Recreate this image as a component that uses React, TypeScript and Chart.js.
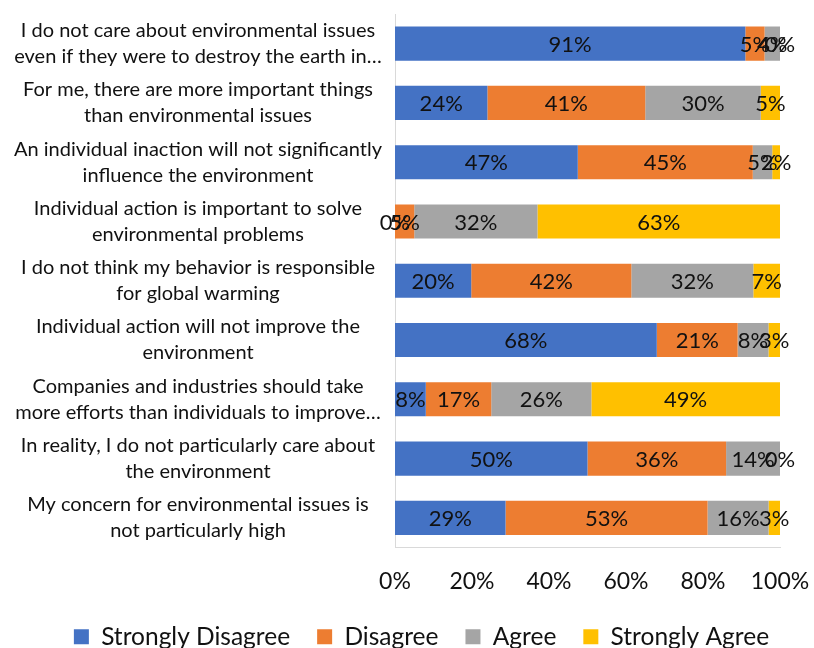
import { useEffect, useRef } from 'react';
import { Chart, registerables } from 'chart.js';

Chart.register(...registerables);

// Survey statements, top to bottom
const statements: string[][] = [
  ['I do not care about environmental issues', 'even if they were to destroy the earth in…'],
  ['For me, there are more important things', 'than environmental issues'],
  ['An individual inaction will not significantly', 'influence the environment'],
  ['Individual action is important to solve', 'environmental problems'],
  ['I do not think my behavior is responsible', 'for global warming'],
  ['Individual action will not improve the', 'environment'],
  ['Companies and industries should take', 'more efforts than individuals to improve…'],
  ['In reality, I do not particularly care about', 'the environment'],
  ['My concern for environmental issues is', 'not particularly high'],
];

// Response shares in percent
const stronglyDisagree = [91, 24, 47, 0, 20, 68, 8, 50, 29];
const disagree = [5, 41, 45, 5, 42, 21, 17, 36, 53];
const agree = [4, 30, 5, 32, 32, 8, 26, 14, 16];
const stronglyAgree = [0, 5, 2, 63, 7, 3, 49, 0, 3];

const seriesNames = ['Strongly Disagree', 'Disagree', 'Agree', 'Strongly Agree'];
const seriesColors = ['#4472C4', '#ED7D31', '#A5A5A5', '#FFC000'];
const xTicks = [0, 20, 40, 60, 80, 100];

const FONT = 'Lato, "Open Sans", sans-serif';

const rawSeries = [stronglyDisagree, disagree, agree, stronglyAgree];
const rowTotals = statements.map((_, i) => rawSeries.reduce((s, arr) => s + arr[i], 0));

// Writes each segment's own value in the middle of it
const valueLabels = {
  id: 'valueLabels',
  afterDatasetsDraw(chart: any) {
    const ctx = chart.ctx;
    ctx.save();
    ctx.font = `22px ${FONT}`;
    ctx.fillStyle = '#111';
    ctx.textAlign = 'center';
    ctx.textBaseline = 'middle';
    chart.data.datasets.forEach((_ds: any, di: number) => {
      const meta = chart.getDatasetMeta(di);
      meta.data.forEach((el: any, i: number) => {
        const raw = rawSeries[di][i];
        const x = (el.x + el.base) / 2;
        ctx.fillText(`${raw}%`, x, el.y + 1);
      });
    });
    ctx.restore();
  },
};

export default function App() {
  const canvasRef = useRef<HTMLCanvasElement | null>(null);

  useEffect(() => {
    if (!canvasRef.current) return;
    const chart = new Chart(canvasRef.current, {
      type: 'bar',
      data: {
        labels: statements,
        datasets: rawSeries.map((arr, di) => ({
          label: seriesNames[di],
          data: arr.map((v, i) => (v / rowTotals[i]) * 100),
          backgroundColor: seriesColors[di],
          borderWidth: 0,
          barPercentage: 0.575,
          categoryPercentage: 1,
        })),
      },
      options: {
        indexAxis: 'y',
        animation: false,
        responsive: false,
        maintainAspectRatio: false,
        // negative right padding moves the centred legend row to the right
        layout: { padding: { top: 14, right: -29, bottom: -11, left: 0 } },
        scales: {
          x: {
            stacked: true,
            min: 0,
            max: 100,
            afterBuildTicks: (axis: any) => {
              axis.ticks = xTicks.map((v) => ({ value: v }));
            },
            afterFit: (axis: any) => {
              axis.height = 50;
              axis.paddingLeft = 0;
              axis.paddingRight = 34;
            },
            grid: { display: false, drawTicks: false },
            border: { display: true, color: '#D9D9D9', width: 1 },
            ticks: {
              color: '#111',
              font: { family: FONT, size: 23 },
              padding: 20,
              maxRotation: 0,
              callback: (v: any) => `${v}%`,
            },
          },
          y: {
            stacked: true,
            afterFit: (axis: any) => {
              axis.width = 395;
              axis.paddingTop = 0;
              axis.paddingBottom = 0;
            },
            grid: { display: false, drawTicks: false },
            border: { display: true, color: '#D9D9D9', width: 1 },
            ticks: {
              color: '#111',
              font: { family: FONT, size: 20, lineHeight: 1.3 },
              crossAlign: 'center',
              padding: 13,
            },
          },
        },
        plugins: {
          legend: {
            position: 'bottom',
            labels: {
              color: '#111',
              font: { family: FONT, size: 24.5 },
              boxWidth: 15,
              boxHeight: 15,
              padding: 27,
            },
          },
          tooltip: { enabled: false },
        },
      },
      plugins: [valueLabels],
    });
    return () => chart.destroy();
  }, []);

  return (
    <div style={{ position: 'fixed', left: 0, top: 0, width: 814, height: 648, background: '#fff' }}>
      <canvas ref={canvasRef} width={814} height={648} style={{ width: 814, height: 648 }} />
    </div>
  );
}
